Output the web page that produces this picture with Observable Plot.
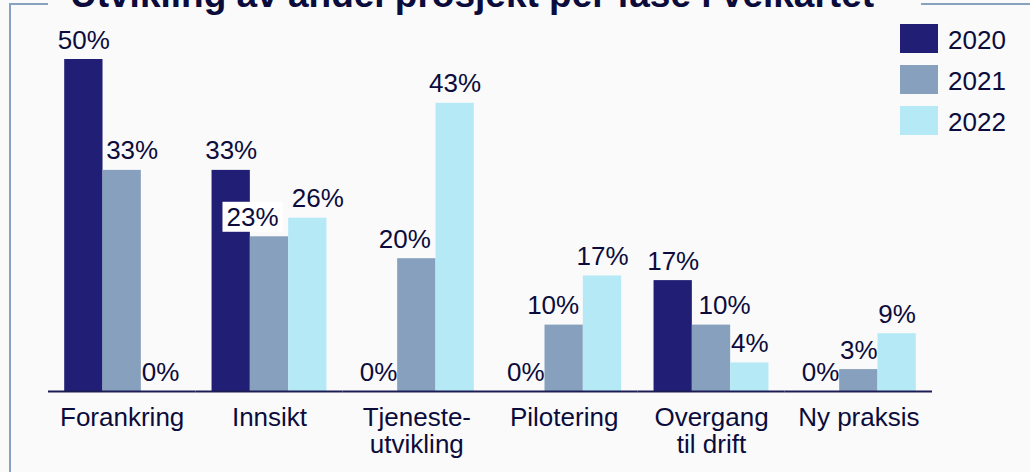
<!DOCTYPE html>
<html>
<head>
<meta charset="utf-8">
<script src="https://cdn.jsdelivr.net/npm/d3@7"></script>
<script src="https://cdn.jsdelivr.net/npm/@observablehq/plot@0.6"></script>
<style>
  html, body { margin: 0; padding: 0; background: #fafafa; overflow: hidden; }
  #wrap { position: relative; width: 1030px; height: 472px; overflow: hidden; background: #fafafa;
          font-family: "Liberation Sans", Arial, sans-serif; color: #0c0c3c; }
  #frame { position: absolute; left: 9px; top: 3px; width: 1200px; height: 800px;
           border: 2px solid #88a1be; box-sizing: border-box; }
  #chart { position: absolute; left: 0; top: 0; }
  #title { position: absolute; left: 48px; top: -24px; width: 851px; padding-left: 22px; height: 38px;
           line-height: 37px; font-size: 37px; font-weight: bold; background: #fafafa; white-space: nowrap; }
  .leg { position: absolute; left: 900px; height: 29px; font-size: 26px; line-height: 29px; white-space: nowrap; }
  .leg .sw { position: absolute; left: 0; top: 0; width: 38px; height: 29px; }
  .leg .lt { position: absolute; left: 48px; top: 2px; }
</style>
</head>
<body>
<div id="wrap">
  <div id="frame"></div>
  <div id="chart"></div>
  <div id="title"></div>
  <div id="legend"></div>
</div>
<script>
const titleText = "Utvikling av andel prosjekt per fase i veikartet";
const categories = ["Forankring", "Innsikt", "Tjeneste-\nutvikling", "Pilotering", "Overgang\ntil drift", "Ny praksis"];
const years = ["2020", "2021", "2022"];
const values2020 = [50, 33.3, 0, 0, 16.7, 0];
const values2021 = [33.3, 23.3, 20, 10, 10, 3.3];
const values2022 = [0, 26.1, 43.4, 17.4, 4.3, 8.7];
const colors = ["#201f75", "#86a0bd", "#b5e9f6"];

const seriesByYear = [values2020, values2021, values2022];
const rows = [];
categories.forEach((c, i) => years.forEach((y, j) => rows.push({category: c, year: y, value: seriesByYear[j][i]})));

// label nudges (styling only)
const labelDx = {
  "Forankring|2021": 10,
  "Innsikt|2021": -17,
  "Innsikt|2022": 10,
  "Tjeneste-\nutvikling|2021": -12,
  "Pilotering|2021": -11,
  "Overgang\ntil drift|2021": 13
};
const boxed = new Set(["Innsikt|2021"]);
const groups = d3.group(rows, d => {
  const k = d.category + "|" + d.year;
  return (labelDx[k] || 0) + (boxed.has(k) ? "b" : "");
});

const textColor = "#0c0c3c";
const W = 1030, H = 472, mL = 48, mR = 98;
const padInner = 0.22, padOuter = 0.11;
const step = (W - mL - mR) / (categories.length - padInner + 2 * padOuter);
const halfGap = step * padInner / 2;
const fs = 26;

const labelMarks = [];
for (const [key, data] of groups) {
  const dx = parseFloat(key);
  labelMarks.push(Plot.text(data, {
    fx: "category", x: "year", y: "value",
    text: d => Math.round(d.value) + "%",
    lineAnchor: "bottom", dy: -11, dx,
    fontSize: fs, fill: textColor,
    className: key.endsWith("b") ? "boxed" : undefined
  }));
}

const plot = Plot.plot({
  width: W, height: H,
  marginTop: 59, marginBottom: 81, marginLeft: mL, marginRight: mR,
  style: {background: "transparent", fontFamily: "Liberation Sans, Arial, sans-serif", color: textColor},
  fx: {domain: categories, paddingInner: padInner, paddingOuter: padOuter, round: false, axis: null, label: null},
  x: {domain: years, padding: 0, round: false, axis: null},
  y: {domain: [0, 50], axis: null},
  color: {domain: years, range: colors},
  marks: [
    Plot.barY(rows, {fx: "category", x: "year", y: "value", fill: "year"}),
    ...labelMarks,
    Plot.ruleY([0], {stroke: "#1c1c55", strokeWidth: 2, insetLeft: -halfGap, insetRight: -halfGap}),
    Plot.text(categories, {fx: d => d, text: d => d, frameAnchor: "bottom", lineAnchor: "top",
                           dy: 15, fontSize: fs, lineHeight: 1.05, fill: textColor})
  ]
});
document.getElementById("chart").appendChild(plot);

// white label box behind boxed labels
plot.querySelectorAll("g.boxed text").forEach(t => {
  const b = t.getBBox();
  const r = document.createElementNS("http://www.w3.org/2000/svg", "rect");
  r.setAttribute("x", b.x - 4);
  r.setAttribute("y", b.y);
  r.setAttribute("width", b.width + 8);
  r.setAttribute("height", b.height);
  r.setAttribute("fill", "#ffffff");
  const tr = t.getAttribute("transform");
  if (tr) r.setAttribute("transform", tr);
  t.parentNode.insertBefore(r, t);
});

document.getElementById("title").textContent = titleText;
const legend = document.getElementById("legend");
years.forEach((y, i) => {
  const item = document.createElement("div");
  item.className = "leg";
  item.style.top = (24 + i * 41) + "px";
  item.innerHTML = `<span class="sw" style="background:${colors[i]}"></span><span class="lt">${y}</span>`;
  legend.appendChild(item);
});
</script>
</body>
</html>
